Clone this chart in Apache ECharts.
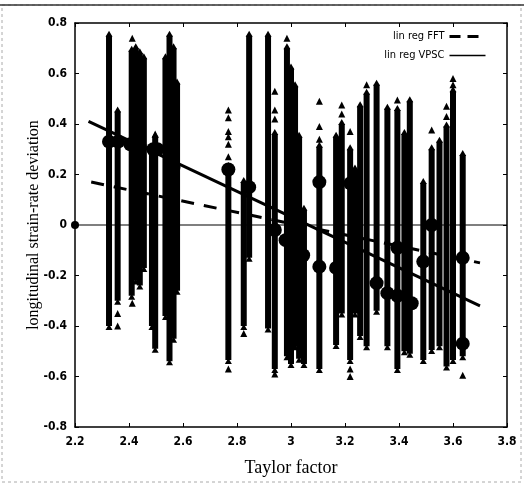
<!DOCTYPE html>
<html>
<head>
<meta charset="utf-8">
<script src="https://cdn.jsdelivr.net/npm/echarts@6/dist/echarts.min.js"></script>
<style>
html,body{margin:0;padding:0;background:#fff;}
#chart{width:524px;height:486px;}
</style>
</head>
<body>
<div id="chart"></div>
<script>
// Column ranges (Taylor factor, min, max of dense triangle stacks)
const colX    = [2.326, 2.358, 2.41, 2.425, 2.44, 2.455, 2.485, 2.497, 2.535, 2.55, 2.565, 2.578,
                 2.768, 2.825, 2.845, 2.915, 2.94, 2.985, 3.0, 3.015, 3.03, 3.048,
                 3.105, 3.167, 3.188, 3.219, 3.237, 3.256, 3.28, 3.317, 3.357, 3.394, 3.42, 3.44,
                 3.49, 3.521, 3.55, 3.576, 3.6, 3.636];
const colLow  = [-0.40, -0.30, -0.28, -0.22, -0.24, -0.17, -0.40, -0.49, -0.36, -0.54, -0.45, -0.26,
                 -0.535, -0.40, -0.13, -0.41, -0.57, -0.52, -0.55, -0.48, -0.53, -0.55,
                 -0.57, -0.475, -0.35, -0.535, -0.35, -0.44, -0.48, -0.34, -0.48, -0.57, -0.50, -0.51,
                 -0.535, -0.495, -0.48, -0.56, -0.535, -0.52];
const colHigh = [0.75, 0.45, 0.69, 0.70, 0.68, 0.66, 0.30, 0.35, 0.66, 0.75, 0.70, 0.56,
                 0.23, 0.17, 0.75, 0.75, 0.36, 0.70, 0.62, 0.55, 0.35, 0.06,
                 0.31, 0.35, 0.40, 0.30, 0.22, 0.47, 0.52, 0.555, 0.46, 0.455, 0.36, 0.49,
                 0.166, 0.30, 0.33, 0.39, 0.53, 0.277];
// Isolated triangles at the tips of the stacks
const tipX = [2.358, 2.358, 2.412, 2.412, 2.497, 2.768, 2.768, 2.768, 2.768, 2.768, 2.768, 2.768,
              2.825, 2.94, 2.94, 2.94, 2.94, 2.985, 3.105, 3.105, 3.105, 3.188, 3.188, 3.219, 3.219, 3.219,
              3.28, 3.394, 3.521, 3.576, 3.576, 3.6, 3.6, 3.636];
const tipY = [-0.35, -0.40, 0.74, -0.31, 0.36, 0.455, 0.425, 0.37, 0.35, 0.32, 0.27, -0.57,
              -0.43, 0.53, 0.455, 0.42, -0.59, 0.74, 0.49, 0.39, 0.34, 0.475, 0.44, 0.37, -0.57, -0.60,
              0.555, 0.495, 0.376, 0.47, 0.43, 0.58, 0.555, -0.595];
// Large circles (mean values)
const dotX = [2.326, 2.36, 2.405, 2.44, 2.49, 2.505, 2.565, 2.768, 2.845, 2.94, 2.98, 3.045,
              3.105, 3.105, 3.167, 3.22, 3.24, 3.317, 3.357, 3.394, 3.394, 3.447, 3.49, 3.521, 3.636, 3.636];
const dotY = [0.33, 0.33, 0.32, 0.31, 0.30, 0.30, 0.23, 0.22, 0.15, -0.02, -0.06, -0.12,
              0.17, -0.165, -0.17, 0.165, -0.20, -0.23, -0.27, -0.09, -0.28, -0.31, -0.145, 0.0, -0.13, -0.47];
// Regression lines
const fftX = [2.26, 3.70];
const fftY = [0.17, -0.15];
const vpscX = [2.25, 3.70];
const vpscY = [0.41, -0.32];
// Axis ticks
const xMin = 2.2, xMax = 3.8, xStep = 0.2;
const yMin = -0.8, yMax = 0.8, yStep = 0.2;

const chart = echarts.init(document.getElementById('chart'), null, {renderer: 'canvas'});
const tickFont = '"DejaVu Sans Condensed", "Liberation Sans Narrow", "Arial Narrow", sans-serif';
const serif = '"Liberation Serif", "DejaVu Serif", serif';

const colData = colX.map((x, i) => [x, colLow[i], colHigh[i]]);

chart.setOption({
  animation: false,
  backgroundColor: '#fff',
  grid: {left: 75, right: 17, top: 23, bottom: 59, containLabel: false},
  graphic: [
    {type: 'rect', shape: {x: 2, y: 5, width: 519, height: 477},
     style: {fill: 'none', stroke: '#aaa', lineWidth: 1, lineDash: [3, 3]}, silent: true},
    {type: 'line', shape: {x1: 0, y1: 5, x2: 524, y2: 5},
     style: {stroke: '#333', lineWidth: 1.5}, silent: true}
  ],
  legend: {
    data: [
      {name: 'lin reg FFT', lineStyle: {type: [11, 7], width: 3}},
      {name: 'lin reg VPSC', lineStyle: {width: 1.5}}
    ],
    orient: 'vertical', right: 32, top: 26, align: 'right',
    itemWidth: 36, itemHeight: 10, itemGap: 8,
    itemStyle: {opacity: 0},
    textStyle: {fontFamily: tickFont, fontSize: 11, color: '#000'}
  },
  xAxis: [{
    type: 'value', min: xMin, max: xMax, interval: xStep,
    name: 'Taylor factor', nameLocation: 'middle', nameGap: 32,
    nameTextStyle: {fontFamily: serif, fontSize: 18, color: '#000'},
    axisLine: {onZero: false, lineStyle: {color: '#000', width: 1.5}},
    axisTick: {inside: true, length: 4, lineStyle: {color: '#000'}},
    axisLabel: {fontFamily: tickFont, fontSize: 12, fontWeight: 'bold', color: '#000', margin: 9},
    splitLine: {show: false}
  }, {
    type: 'value', min: xMin, max: xMax, interval: xStep, position: 'top',
    axisLine: {onZero: false, lineStyle: {color: '#000', width: 1.5}},
    axisTick: {inside: true, length: 4, lineStyle: {color: '#000'}},
    axisLabel: {show: false}, splitLine: {show: false}
  }],
  yAxis: [{
    type: 'value', min: yMin, max: yMax, interval: yStep,
    name: 'longitudinal strain-rate deviation', nameLocation: 'middle', nameGap: 33,
    nameMoveOverlap: false,
    nameTextStyle: {fontFamily: serif, fontSize: 16, color: '#000'},
    axisLine: {onZero: false, lineStyle: {color: '#000', width: 1.5}},
    axisTick: {inside: true, length: 4, lineStyle: {color: '#000'}},
    axisLabel: {fontFamily: tickFont, fontSize: 12, fontWeight: 'bold', color: '#000', margin: 8},
    splitLine: {show: false}
  }, {
    type: 'value', min: yMin, max: yMax, interval: yStep, position: 'right',
    axisLine: {onZero: false, lineStyle: {color: '#000', width: 1.5}},
    axisTick: {inside: true, length: 4, lineStyle: {color: '#000'}},
    axisLabel: {show: false}, splitLine: {show: false}
  }],
  series: [
    {
      type: 'line', data: [[xMin, 0], [xMax, 0]], symbol: 'none', silent: true,
      lineStyle: {color: '#000', width: 1.2}, z: 6
    },
    {
      type: 'custom', data: colData, encode: {x: 0, y: [1, 2]}, z: 2,
      renderItem: function (params, api) {
        const x = api.value(0), lo = api.value(1), hi = api.value(2);
        const pLo = api.coord([x, lo]);
        const pHi = api.coord([x, hi]);
        const w = 6;
        return {
          type: 'group',
          children: [
            {type: 'rect', shape: {x: pHi[0] - w / 2, y: pHi[1], width: w, height: pLo[1] - pHi[1]},
             style: {fill: '#000'}},
            {type: 'polygon', shape: {points: [[pHi[0], pHi[1] - 5], [pHi[0] - 3.5, pHi[1] + 1], [pHi[0] + 3.5, pHi[1] + 1]]},
             style: {fill: '#000'}},
            {type: 'polygon', shape: {points: [[pLo[0], pLo[1] - 2], [pLo[0] - 3.5, pLo[1] + 4], [pLo[0] + 3.5, pLo[1] + 4]]},
             style: {fill: '#000'}}
          ]
        };
      }
    },
    {
      type: 'scatter', data: tipX.map((x, i) => [x, tipY[i]]), symbol: 'triangle', symbolSize: 7,
      itemStyle: {color: '#000', opacity: 1}, z: 3
    },
    {
      type: 'scatter', data: dotX.map((x, i) => [x, dotY[i]]), symbol: 'circle', symbolSize: 14,
      itemStyle: {color: '#000', opacity: 1}, z: 4
    },
    {
      type: 'scatter', data: [[xMin, 0]], symbol: 'circle', symbolSize: 8,
      itemStyle: {color: '#000', opacity: 1}, z: 4
    },
    {
      name: 'lin reg FFT', type: 'line', data: fftX.map((x, i) => [x, fftY[i]]), symbol: 'none',
      lineStyle: {color: '#000', width: 3, type: [13, 10]}, itemStyle: {color: '#000'}, z: 5
    },
    {
      name: 'lin reg VPSC', type: 'line', data: vpscX.map((x, i) => [x, vpscY[i]]), symbol: 'none',
      lineStyle: {color: '#000', width: 3}, itemStyle: {color: '#000'}, z: 5
    }
  ]
});
</script>
</body>
</html>
